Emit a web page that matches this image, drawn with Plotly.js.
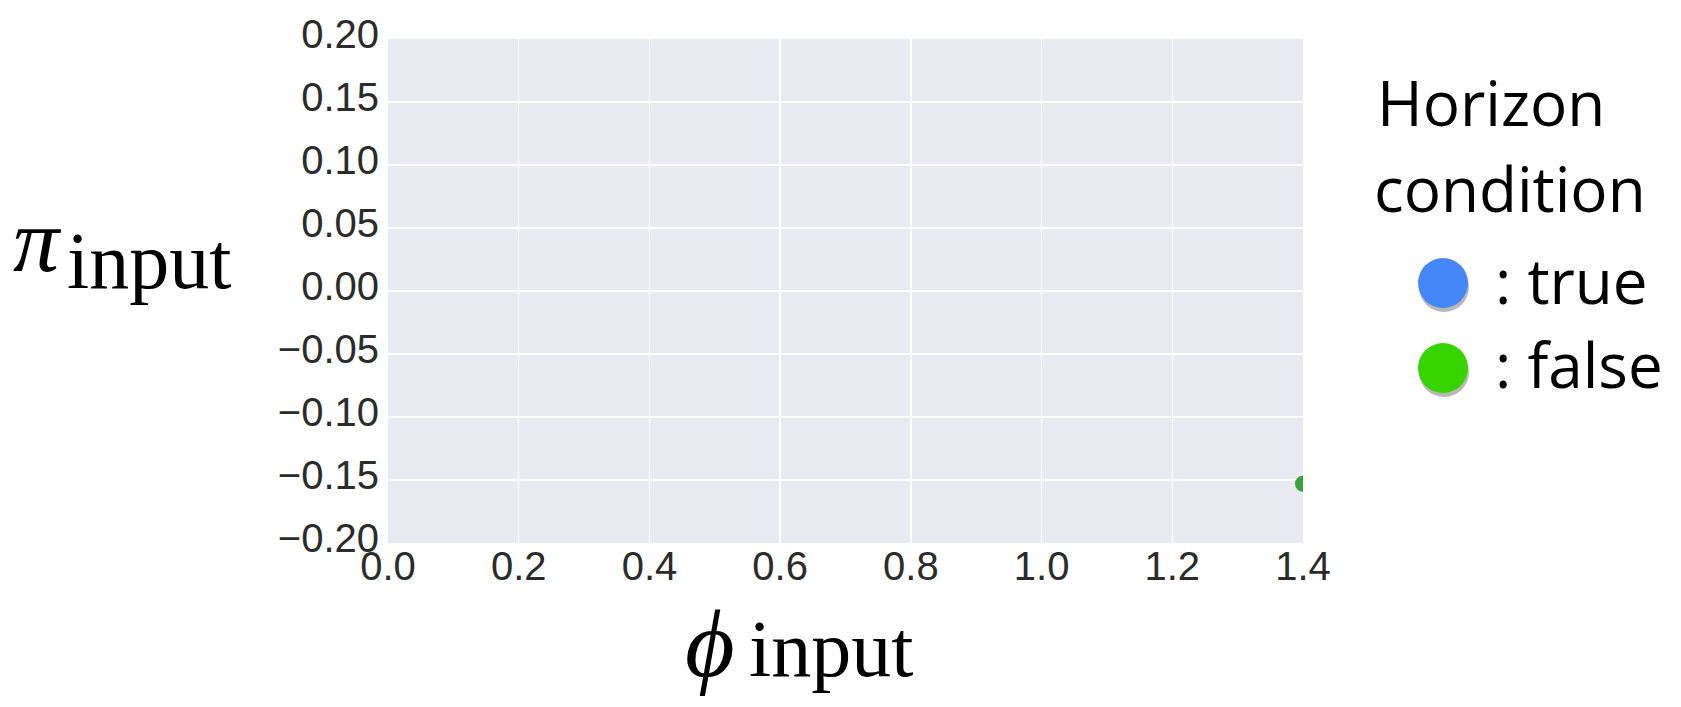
<!DOCTYPE html>
<html>
<head>
<meta charset="utf-8">
<script src="https://cdn.plot.ly/plotly-3.0.1.min.js"></script>
<style>html,body{margin:0;padding:0;background:#fff;}#chart{width:1681px;height:707px;}</style>
</head>
<body>
<div id="chart"></div>
<script>
// Data
const trueX = [];
const trueY = [];
const falseX = [1.4];
const falseY = [-0.153];
const xTickVals = [0.0, 0.2, 0.4, 0.6, 0.8, 1.0, 1.2, 1.4];
const yTickVals = [-0.20, -0.15, -0.10, -0.05, 0.00, 0.05, 0.10, 0.15, 0.20];
const legendTitle = ["Horizon", "condition"];
const legendLabels = [": true", ": false"];
const legendColors = ["#4586F9", "#38D400"];

// Layout geometry (pixels)
const W = 1681, H = 707;
const L = 388, R = 378, T = 39, B = 164;
const PW = W - L - R, PH = H - T - B;
const px = v => (v - L) / PW;
const py = v => (H - B - v) / PH;

const serif = "Liberation Serif, DejaVu Serif, serif";
const sans = "Open Sans, Lato, sans-serif";

const annotations = [
  {text: "<i>π</i>", x: px(12), y: py(240), font: {family: serif, size: 92, color: "#000"}},
  {text: "input", x: px(66), y: py(261), font: {family: serif, size: 80, color: "#000"}},
  {text: "<i>ϕ</i>", x: px(684), y: py(643), font: {family: serif, size: 96, color: "#000"}},
  {text: "input", x: px(748), y: py(649), font: {family: serif, size: 80, color: "#000"}},
  {text: legendTitle[0], x: px(1376), y: py(102), font: {family: sans, size: 62, color: "#000"}},
  {text: legendTitle[1], x: px(1373), y: py(188), font: {family: sans, size: 62, color: "#000"}},
  {text: legendLabels[0], x: px(1494), y: py(280), font: {family: sans, size: 62, color: "#000"}},
  {text: legendLabels[1], x: px(1494), y: py(364), font: {family: sans, size: 62, color: "#000"}}
].map(a => Object.assign({xref: "paper", yref: "paper", xanchor: "left", yanchor: "middle", showarrow: false, borderpad: 0}, a));

const circleCenters = [[1443, 283], [1443, 368]];
const shapes = [];
circleCenters.forEach((c, i) => {
  const r = 25;
  shapes.push({type: "circle", xref: "paper", yref: "paper",
    x0: px(c[0] - r + 1), x1: px(c[0] + r + 1), y0: py(c[1] + r + 4), y1: py(c[1] - r + 4),
    fillcolor: "rgba(0,0,0,0.28)", line: {width: 0}, layer: "above"});
  shapes.push({type: "circle", xref: "paper", yref: "paper",
    x0: px(c[0] - r), x1: px(c[0] + r), y0: py(c[1] + r), y1: py(c[1] - r),
    fillcolor: legendColors[i], line: {width: 0}, layer: "above"});
});

const traces = [
  {x: trueX, y: trueY, type: "scatter", mode: "markers", name: "true",
   marker: {color: "#4C72B0", size: 16}, cliponaxis: true},
  {x: falseX, y: falseY, type: "scatter", mode: "markers", name: "false",
   marker: {color: "#38A03C", size: 16}, cliponaxis: true}
];

const tickFont = {family: "Liberation Sans, Arial, sans-serif", size: 40, color: "#2b2b2b"};

const layout = {
  width: W, height: H,
  margin: {l: L, r: R, t: T, b: B, pad: 0},
  paper_bgcolor: "#ffffff",
  plot_bgcolor: "#EAEAF2",
  showlegend: false,
  xaxis: {range: [0, 1.4], tickvals: xTickVals, tickformat: ".1f", ticks: "", ticklabelstandoff: -4,
    showgrid: true, gridcolor: "#ffffff", gridwidth: 1.5, zeroline: false, showline: false,
    tickfont: tickFont, fixedrange: true},
  yaxis: {range: [-0.2, 0.2], tickvals: yTickVals, tickformat: ".2f", ticks: "", ticklabelstandoff: 8,
    ticklabelshift: -5,
    showgrid: true, gridcolor: "#ffffff", gridwidth: 1.5, zeroline: false, showline: false,
    tickfont: tickFont, fixedrange: true},
  annotations: annotations,
  shapes: shapes
};

Plotly.newPlot("chart", traces, layout, {displayModeBar: false, staticPlot: true});
</script>
</body>
</html>
